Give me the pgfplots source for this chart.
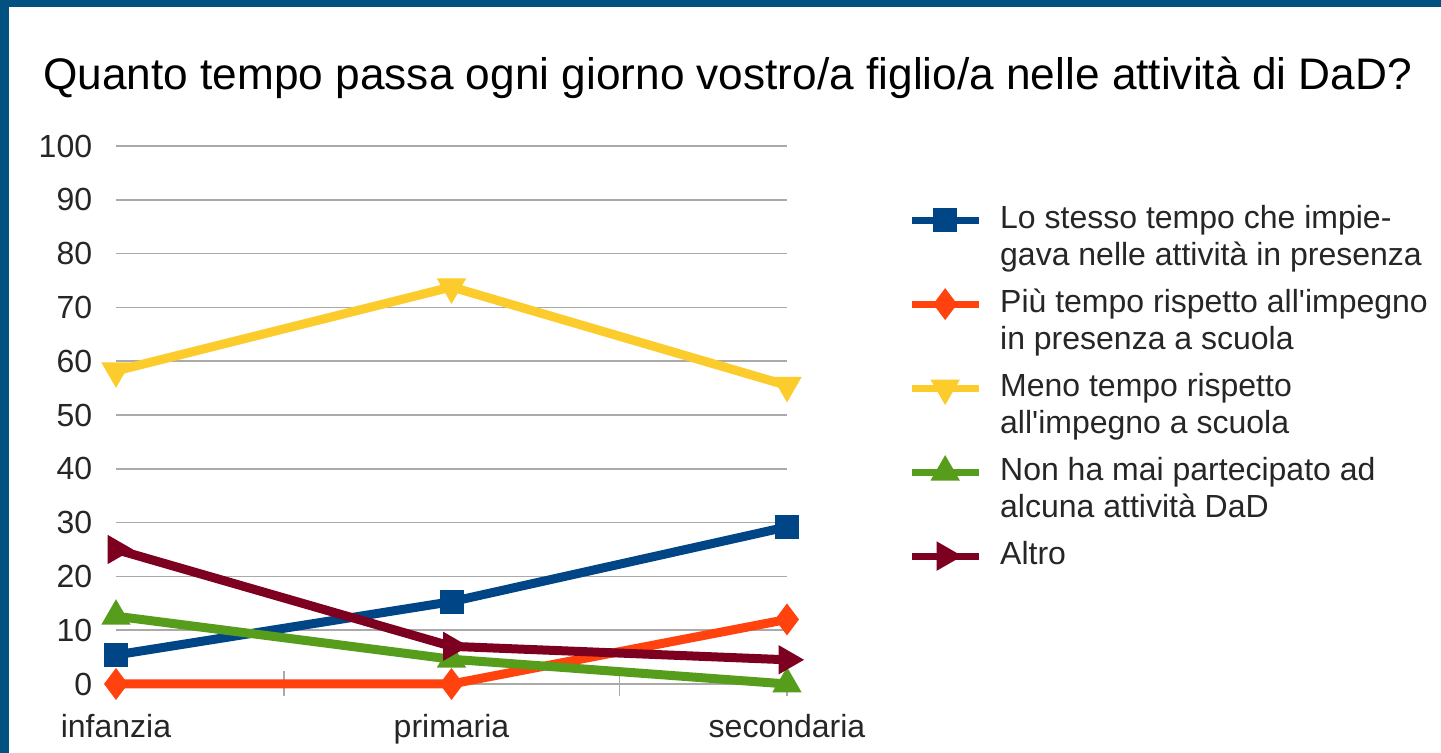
\documentclass[border=0pt]{standalone}
\usepackage{fontspec}
\setmainfont{Liberation Sans}
\usepackage{pgfplots}
\pgfplotsset{compat=1.18}
\definecolor{bordercol}{RGB}{1,82,128}
\definecolor{sblue}{RGB}{0,69,134}
\definecolor{sred}{RGB}{255,66,14}
\definecolor{syellow}{RGB}{252,204,45}
\definecolor{sgreen}{RGB}{87,157,28}
\definecolor{sdark}{RGB}{126,0,33}
\definecolor{gridcol}{RGB}{170,170,170}
\begin{document}
\begin{tikzpicture}[x=1pt,y=1pt]
\useasboundingbox (0,0) rectangle (720.5,376.5);
\fill[white] (0,0) rectangle (720.5,376.5);
\fill[bordercol] (0,0) rectangle (4.25,376.5);
\fill[bordercol] (0,372.75) rectangle (720.5,376.5);
\node[anchor=base west, font=\fontsize{22.1}{26}\selectfont, inner sep=0pt] at (21.5,331.5) {Quanto tempo passa ogni giorno vostro/a figlio/a nelle attività di DaD?};
\begin{axis}[
  at={(58pt,34.5pt)}, anchor=south west,
  scale only axis, width=335.5pt, height=269pt,
  xmin=0, xmax=2, ymin=0, ymax=100,
  clip=false,
  axis lines*=left,
  y axis line style={draw=none},
  x axis line style={gridcol, line width=0.75pt},
  ytick={0,10,...,100},
  ytick style={draw=none},
  xtick={0,0.5,1,1.5,2},
  xticklabels={infanzia,,primaria,,secondaria},
  xtick style={gridcol, line width=0.75pt},
  xtick align=center,
  major tick length=12.5pt,
  ymajorgrids,
  grid style={gridcol, line width=0.75pt},
  tick label style={font=\fontsize{16}{19}\selectfont, text=black!85},
  /pgf/number format/assume math mode=true,
  yticklabel style={anchor=east, inner sep=0pt, xshift=-11.75pt},
  xticklabel style={anchor=base, inner sep=0pt, yshift=-27pt+6.25pt},
  legend style={at={(1.18,0.892)}, anchor=north west, draw=none, fill=none,
    inner sep=0pt, column sep=9pt, row sep=0pt,
    font=\fontsize{16}{18.75}\selectfont, text=black!85,
    nodes={text height=12pt, text depth=30pt, inner sep=0pt, anchor=base west}},
  legend cell align=left,
  legend image code/.code={\draw[#1, line width=3.5pt, mark repeat=2, mark phase=2, yshift=4.2pt] plot coordinates {(0pt,0pt) (16.75pt,0pt) (33.5pt,0pt)};},
  every axis plot/.append style={line width=4.5pt},
]
\addplot[sblue, mark=square*, mark size=5.25pt, mark options={solid, line width=1.5pt}] coordinates {(0,5.4) (1,15.3) (2,29.2)};
\addlegendentry{\parbox[t]{220pt}{Lo stesso tempo che impie-\\gava nelle attività in presenza}}
\addplot[sred, mark=diamond*, mark size=6.75pt, mark options={solid, line width=1.5pt}] coordinates {(0,0) (1,0) (2,12)};
\addlegendentry{\parbox[t]{220pt}{Più tempo rispetto all\textquotesingle impegno\\in presenza a scuola}}
\addplot[syellow, mark=triangle*, mark size=7pt, mark options={solid, line width=1.5pt, rotate=180}] coordinates {(0,58.2) (1,73.8) (2,55.5)};
\addlegendentry{\parbox[t]{220pt}{Meno tempo rispetto\\all\textquotesingle impegno a scuola}}
\addplot[sgreen, mark=triangle*, mark size=7pt, mark options={solid, line width=1.5pt}] coordinates {(0,12.6) (1,4.6) (2,0)};
\addlegendentry{\parbox[t]{220pt}{Non ha mai partecipato ad\\alcuna attività DaD}}
\addplot[sdark, mark=triangle*, mark size=7pt, mark options={solid, line width=1.5pt, rotate=-90}] coordinates {(0,25) (1,7) (2,4.5)};
\addlegendentry{Altro}
\end{axis}
\end{tikzpicture}
\end{document}
